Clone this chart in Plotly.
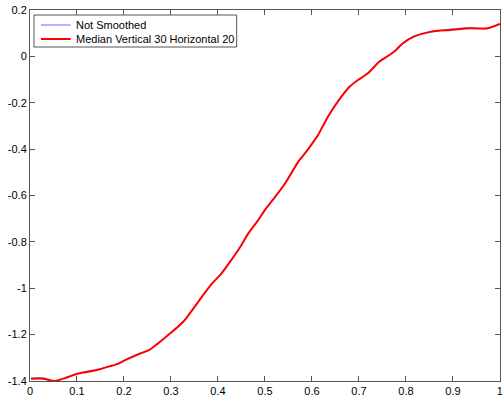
import plotly.graph_objects as go

# Smoothed curve
x_smooth = [0.002, 0.028, 0.053, 0.078, 0.099, 0.127, 0.148, 0.169, 0.187, 0.204,
            0.233, 0.254, 0.271, 0.282, 0.303, 0.328, 0.366, 0.388, 0.405, 0.426,
            0.448, 0.465, 0.486, 0.500, 0.522, 0.543, 0.560, 0.571, 0.588, 0.606,
            0.613, 0.634, 0.655, 0.680, 0.698, 0.719, 0.743, 0.765, 0.779, 0.793,
            0.817, 0.853, 0.895, 0.937, 0.973, 1.000]
y_smooth = [-1.390, -1.390, -1.400, -1.385, -1.370, -1.359, -1.349, -1.337, -1.326, -1.309,
            -1.283, -1.266, -1.240, -1.222, -1.187, -1.140, -1.036, -0.978, -0.942, -0.885,
            -0.820, -0.762, -0.705, -0.662, -0.605, -0.547, -0.490, -0.454, -0.411, -0.360,
            -0.339, -0.260, -0.195, -0.131, -0.102, -0.073, -0.023, 0.006, 0.028, 0.056,
            0.085, 0.107, 0.114, 0.121, 0.121, 0.140]

# Raw (not smoothed) curve, mostly hidden under the smoothed one
y_raw = [-1.388, -1.386, -1.401, -1.384, -1.371, -1.355, -1.350, -1.336, -1.327, -1.306,
         -1.280, -1.267, -1.239, -1.223, -1.186, -1.141, -1.035, -0.979, -0.941, -0.886,
         -0.819, -0.763, -0.704, -0.663, -0.604, -0.548, -0.489, -0.455, -0.410, -0.361,
         -0.338, -0.261, -0.194, -0.128, -0.103, -0.072, -0.024, 0.007, 0.027, 0.057,
         0.088, 0.104, 0.118, 0.124, 0.119, 0.141]

x_ticks = [0, 0.1, 0.2, 0.3, 0.4, 0.5, 0.6, 0.7, 0.8, 0.9, 1]
x_labels = ["0", "0.1", "0.2", "0.3", "0.4", "0.5", "0.6", "0.7", "0.8", "0.9", "1"]
y_ticks = [0.2, 0, -0.2, -0.4, -0.6, -0.8, -1, -1.2, -1.4]
y_labels = ["0.2", "0", "-0.2", "-0.4", "-0.6", "-0.8", "-1", "-1.2", "-1.4"]

series_names = ["Not Smoothed", "Median Vertical 30 Horizontal 20"]
series_colors = ["#6a6aff", "#ff0000"]
series_widths = [1, 2]

FONT = "Liberation Sans"
AXC = "#555555"

fig = go.Figure()
fig.add_trace(go.Scatter(x=x_smooth, y=y_raw, mode="lines", name=series_names[0],
                         line=dict(color=series_colors[0], width=series_widths[0], shape="spline",
                                   smoothing=0.6)))
fig.add_trace(go.Scatter(x=x_smooth, y=y_smooth, mode="lines", name=series_names[1],
                         line=dict(color=series_colors[1], width=series_widths[1], shape="spline",
                                   smoothing=0.6)))

axis_common = dict(showgrid=False, zeroline=False, showline=True, mirror="ticks",
                   linecolor=AXC, linewidth=1, ticks="inside", ticklen=5,
                   tickcolor=AXC, ticklabeloverflow="allow",
                   tickfont=dict(family=FONT, size=11, color="#000000"))

# Manual legend box (paper coordinates of the plot area)
W, H = 473.0, 371.0
def px(x):
    return (x - 30) / W
def py(y):
    return (381 - y) / H

shapes = [dict(type="rect", xref="paper", yref="paper",
               x0=px(34), x1=px(238), y0=py(47), y1=py(15),
               line=dict(color=AXC, width=1), fillcolor="white", layer="above")]
annotations = []
for i, (nm, col, wd) in enumerate(zip(series_names, series_colors, series_widths)):
    ypix = 25 + 14 * i
    shapes.append(dict(type="line", xref="paper", yref="paper",
                       x0=px(41), x1=px(71), y0=py(ypix), y1=py(ypix),
                       line=dict(color=col, width=wd), layer="above"))
    annotations.append(dict(xref="paper", yref="paper", x=px(74), y=py(ypix),
                            xanchor="left", yanchor="middle", showarrow=False,
                            text=nm, font=dict(family=FONT, size=11, color="#000000")))

fig.update_layout(
    width=504, height=401,
    margin=dict(l=30, r=1, t=10, b=20),
    paper_bgcolor="white", plot_bgcolor="white",
    font=dict(family=FONT, size=11, color="#000000"),
    xaxis=dict(range=[0, 1.0002], tickvals=x_ticks, ticktext=x_labels, **axis_common),
    yaxis=dict(range=[-1.4, 0.2002], tickvals=y_ticks, ticktext=y_labels, **axis_common),
    shapes=shapes,
    annotations=annotations,
    showlegend=False,
)

fig.write_html("out.html")
